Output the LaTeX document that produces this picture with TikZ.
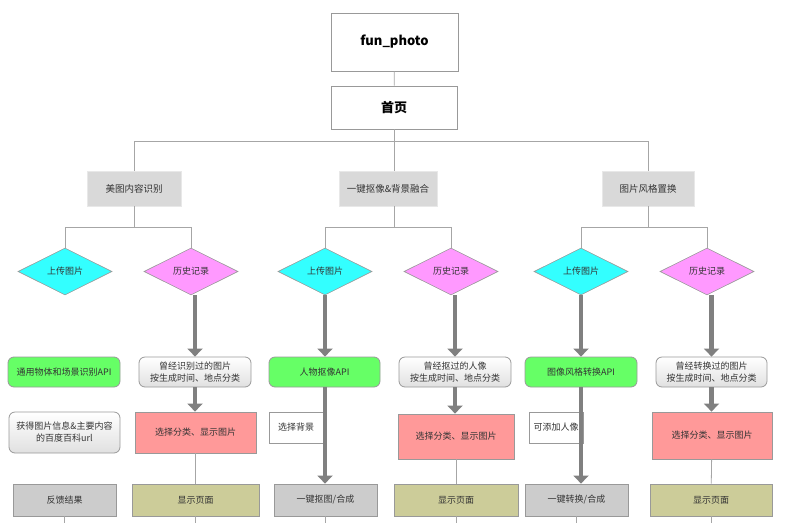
\documentclass[tikz,border=0pt]{standalone}
\usepackage{fontspec}
\setmainfont{Noto Sans CJK SC}
\usetikzlibrary{shapes.geometric, arrows.meta}

\definecolor{linegray}{HTML}{A6A6A6}
\definecolor{bordergray}{HTML}{999999}
\definecolor{catgray}{HTML}{D9D9D9}
\definecolor{upcyan}{HTML}{33FFFF}
\definecolor{hismag}{HTML}{FF99FF}
\definecolor{apigreen}{HTML}{66FF66}
\definecolor{selpink}{HTML}{FF9999}
\definecolor{endgray}{HTML}{CCCCCC}
\definecolor{showolive}{HTML}{CCCC99}
\definecolor{arrowgray}{HTML}{808080}
\definecolor{txt}{HTML}{333333}

\tikzset{
  box/.style={draw=bordergray, line width=0.8pt, inner sep=0pt, align=center, text=txt, font=\fontsize{9}{12}\selectfont},
  topbox/.style={box, font=\fontsize{13}{15}\selectfont\bfseries, text=black},
  catbox/.style={box, draw=catgray!60!white, fill=catgray, minimum height=35pt, font=\fontsize{9.5}{11}\selectfont},
  choice/.style={diamond, aspect=2, draw=bordergray, line width=0.6pt, inner sep=0pt, minimum width=94pt, minimum height=47pt, text=txt, font=\fontsize{9}{10}\selectfont},
  apibox/.style={box, fill=apigreen, rounded corners=6pt, minimum height=30pt},
  recbox/.style={box, rounded corners=6pt, top color=white, bottom color=black!12, minimum height=30pt},
  selbox/.style={box, fill=selpink},
  notebox/.style={box, fill=white, minimum width=54pt, minimum height=31pt},
  endbox/.style={box, fill=endgray, minimum height=32pt},
  showbox/.style={box, fill=showolive, minimum height=32pt},
  conn/.style={draw=linegray, line width=0.8pt},
  bigarrow/.style={draw=arrowgray, line width=4.5pt, -{Triangle[width=15pt, length=8pt]}}
}

\begin{document}
\begin{tikzpicture}[x=1pt, y=-1pt]
  \useasboundingbox (0,0) rectangle (794,522);

  % top of the tree
  \node [topbox, minimum width=127pt, minimum height=58pt] (fun) at (394.5, 42) {fun\_photo};
  \node [topbox, minimum width=126pt, minimum height=43pt] (home) at (394, 107.5) {首页};
  \node [catbox, minimum width=94pt] (cat1) at (134, 188.5) {美图内容识别};
  \node [catbox, minimum width=98pt] (cat2) at (388, 188.5) {一键抠像\&背景融合};
  \node [catbox, minimum width=92pt] (cat3) at (648, 188.5) {图片风格置换};

  \draw [conn] (fun) -- (home);
  \draw [conn] (home.south) -- ++(0, 12) coordinate (j0);
  \draw [conn] (j0) -| (cat1.north);
  \draw [conn] (j0) -| (cat3.north);
  \draw [conn] (j0) -- (j0 |- cat2.north);

  % choices
  \node [choice, fill=upcyan] (up1) at (65, 271.5) {上传图片};
  \node [choice, fill=hismag] (his1) at (191, 271.5) {历史记录};
  \node [choice, fill=upcyan] (up2) at (325, 271.5) {上传图片};
  \node [choice, fill=hismag] (his2) at (451, 271.5) {历史记录};
  \node [choice, fill=upcyan] (up3) at (581, 271.5) {上传图片};
  \node [choice, fill=hismag] (his3) at (707, 271.5) {历史记录};

  \draw [conn] (cat1.south) -- ++(0, 21) coordinate (j1);
  \draw [conn] (j1) -| (up1.north);
  \draw [conn] (j1) -| (his1.north);
  \draw [conn] (cat2.south -| j0) -- ++(0, 21) coordinate (j2);
  \draw [conn] (j2) -| (up2.north);
  \draw [conn] (j2) -| (his2.north);
  \draw [conn] (cat3.south) -- ++(0, 21) coordinate (j3);
  \draw [conn] (j3) -| (up3.north);
  \draw [conn] (j3) -| (his3.north);

  % second row
  \node [apibox, minimum width=112pt] (api1) at (64, 372) {通用物体和场景识别API};
  \node [recbox, minimum width=112pt] (rec1) at (195, 372) {曾经识别过的图片\\按生成时间、地点分类};
  \node [apibox, minimum width=111pt] (api2) at (324.5, 372) {人物抠像API};
  \node [recbox, minimum width=112pt] (rec2) at (455, 372) {曾经抠过的人像\\按生成时间、地点分类};
  \node [apibox, minimum width=112pt] (api3) at (581, 372) {图像风格转换API};
  \node [recbox, minimum width=111pt] (rec3) at (711.5, 372) {曾经转换过的图片\\按生成时间、地点分类};

  % third row
  \node [recbox, minimum width=111pt, minimum height=41pt] (info1) at (64.5, 432.5) {获得图片信息\&主要内容\\的百度百科url};
  \node [selbox, minimum width=121pt, minimum height=41pt] (sel1) at (195.5, 432.5) {选择分类、显示图片};
  \node [notebox] (bg2) at (296, 427.5) {选择背景};
  \node [selbox, minimum width=116pt, minimum height=45pt] (sel2) at (456, 436.5) {选择分类、显示图片};
  \node [notebox] (add3) at (556, 427.5) {可添加人像};
  \node [selbox, minimum width=120pt, minimum height=47pt] (sel3) at (712, 435.5) {选择分类、显示图片};

  % bottom row
  \node [endbox, minimum width=103pt] (fb1) at (64.5, 500) {反馈结果};
  \node [showbox, minimum width=127pt] (show1) at (195.5, 500) {显示页面};
  \node [endbox, minimum width=103pt] (one2) at (325.5, 500) {一键抠图/合成};
  \node [showbox, minimum width=124pt] (show2) at (456, 500) {显示页面};
  \node [endbox, minimum width=103pt] (one3) at (576.5, 500) {一键转换/合成};
  \node [showbox, minimum width=122pt] (show3) at (711, 500) {显示页面};

  % thick arrows
  \draw [bigarrow] (his1.south -| rec1.north) -- (rec1.north);
  \draw [bigarrow] (rec1.south) -- (sel1.north -| rec1.south);
  \draw [bigarrow] (up2.south) -- (up2.south |- api2.north);
  \draw [bigarrow] (api2.south -| up2.south) -- (one2.north -| up2.south);
  \draw [bigarrow] (his2.south -| rec2.north) -- (rec2.north);
  \draw [bigarrow] (rec2.south) -- (sel2.north -| rec2.south);
  \draw [bigarrow] (up3.south) -- (up3.south |- api3.north);
  \draw [bigarrow] (api3.south) -- (one3.north -| api3.south);
  \draw [bigarrow] (his3.south -| rec3.north) -- (rec3.north);
  \draw [bigarrow] (rec3.south) -- (sel3.north -| rec3.south);

  % thin lines
  \draw [conn] (sel1) -- (show1);
  \draw [conn] (sel2) -- (show2);
  \draw [conn] (sel3) -- (show3);
  \foreach \n in {fb1, show1, one2, show2, one3, show3}
    \draw [conn] (\n.south) -- ++(0, 8);
\end{tikzpicture}
\end{document}
